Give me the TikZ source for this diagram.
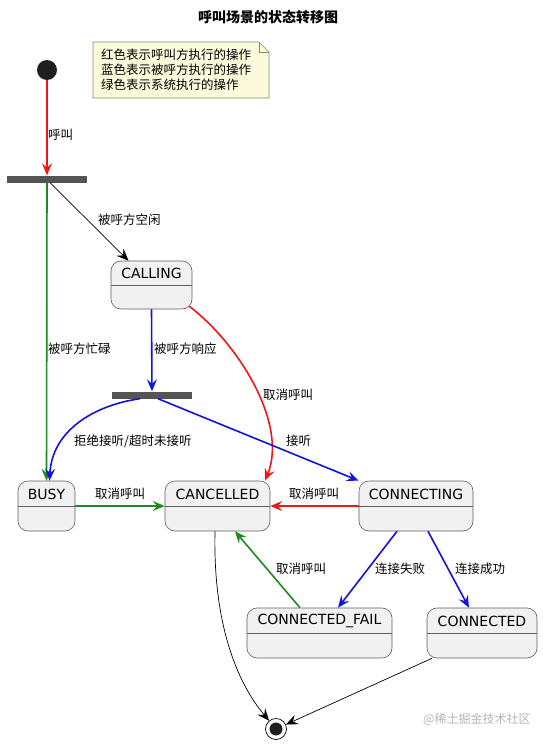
\documentclass[tikz,border=0pt]{standalone}
\usepackage{fontspec}
\setmainfont{DejaVu Sans}
\newfontfamily\cjk{Noto Sans CJK SC}
\usepackage{tikz}
\usetikzlibrary{arrows.meta, backgrounds}
\definecolor{callred}{HTML}{F01616}
\definecolor{calledblue}{HTML}{1212DC}
\definecolor{sysgreen}{HTML}{1C8A1C}
\definecolor{bargray}{HTML}{555555}
\definecolor{statefill}{HTML}{F1F1F1}
\definecolor{stateedge}{HTML}{5E5E5E}
\definecolor{notefill}{HTML}{FBFBDB}
\definecolor{noteedge}{HTML}{8A8A70}
\definecolor{markgray}{HTML}{B4B4B4}
\tikzset{
    state/.style={draw=stateedge, fill=statefill, rounded corners=10pt, line width=0.6pt,
        minimum height=50pt, inner sep=0pt,
        path picture={\draw[stateedge, line width=0.6pt]
            (path picture bounding box.west) -- (path picture bounding box.east);},
        label={[font=\fontsize{14}{16}\selectfont, yshift=12pt]center:#1}},
    forkbar/.style={fill=bargray, minimum width=80pt, minimum height=7pt, inner sep=0pt},
    elabel/.style={font=\cjk\fontsize{12.5}{14}\selectfont, anchor=west, inner sep=0pt},
    redline/.style={callred, line width=1.6pt},
    blueline/.style={calledblue, line width=1.6pt},
    greenline/.style={sysgreen, line width=1.6pt},
    plainline/.style={black, line width=0.7pt}
}

\begin{document}
\begin{tikzpicture}[x=1pt, y=-1pt, >={Stealth[length=12pt, width=10pt, inset=4.5pt]}]
    \useasboundingbox (0,0) rectangle (542,744);

    \node[font=\cjk\bfseries\fontsize{14}{16}\selectfont] (title) at (268,17) {呼叫场景的状态转移图};

    % legend note
    \node[font=\cjk\fontsize{12.5}{15}\selectfont, align=left, anchor=west, inner sep=0pt] (note) at (101,70)
        {红色表示呼叫方执行的操作\\蓝色表示被呼方执行的操作\\绿色表示系统执行的操作};
    \begin{scope}[on background layer]
        \filldraw[fill=notefill, draw=noteedge, line width=0.6pt]
            (93,42) -- (259,42) -- (269,52) -- (269,98) -- (93,98) -- cycle;
        \draw[noteedge, line width=0.6pt] (259,42) -- (259,52) -- (269,52);
    \end{scope}

    % pseudo states
    \node[circle, fill=black!88, minimum size=20pt, inner sep=0pt] (start) at (47,70) {};
    \node[forkbar] (fork1) at (47,179) {};
    \node[forkbar] (fork2) at (152,395) {};
    \node[circle, draw=black, line width=0.7pt, fill=white, minimum size=21pt, inner sep=0pt,
        path picture={\fill[black!88] (path picture bounding box.center) circle (6.5pt);}] (final) at (276,729) {};

    % states
    \node[state=CALLING, minimum width=81pt, minimum height=48pt] (calling) at (151.5,285) {};
    \node[state=BUSY, minimum width=57pt] (busy) at (46.5,506) {};
    \node[state=CANCELLED, minimum width=105pt] (cancelled) at (217.5,506) {};
    \node[state=CONNECTING, minimum width=114pt] (connecting) at (416,506) {};
    \node[state=CONNECTED\_FAIL, minimum width=145pt] (fail) at (319.5,633) {};
    \node[state=CONNECTED, minimum width=110pt] (connected) at (482,633) {};

    % transitions
    \draw[redline, ->] (start) -- (fork1.north);
    \draw[plainline, ->] ([xshift=3pt]fork1.south) -- ([xshift=-23pt]calling.north);
    \draw[greenline, ->] (fork1.south) -- (busy.north);
    \draw[blueline, ->] (calling.south) -- (fork2.north);
    \draw[redline, ->] ([shift={(-3pt,3pt)}]calling.south east)
        .. controls (240,345) and (288,425) .. ([xshift=47.5pt]cancelled.north);
    \draw[blueline, ->] ([xshift=-12pt]fork2.south)
        .. controls (95,405) and (52,430) .. ([xshift=3pt]busy.north);
    \draw[blueline, ->] ([xshift=6pt]fork2.south) -- (connecting.north west);
    \draw[greenline, ->] (busy.east) -- (cancelled.west);
    \draw[redline, ->] (connecting.west) -- (cancelled.east);
    \draw[blueline, ->] ([xshift=-19pt]connecting.south) -- ([xshift=18.5pt]fail.north);
    \draw[blueline, ->] ([xshift=12pt]connecting.south) -- ([xshift=-13pt]connected.north);
    \draw[greenline, ->] ([xshift=-19.5pt]fail.north) -- ([xshift=17.5pt]cancelled.south);
    \draw[plainline, ->] ([xshift=-2.5pt]cancelled.south)
        .. controls (213,620) and (235,680) .. (final);
    \draw[plainline, ->] ([xshift=-50pt]connected.south) -- (final);

    % transition labels
    \node[elabel] (l-call) at (48,135) {呼叫};
    \node[elabel] (l-idle) at (98,220) {被呼方空闲};
    \node[elabel] (l-busy) at (48,349) {被呼方忙碌};
    \node[elabel] (l-answer) at (154,349) {被呼方响应};
    \node[elabel] (l-cancel1) at (263,395) {取消呼叫};
    \node[elabel] (l-reject) at (74,441) {拒绝接听/超时未接听};
    \node[elabel] (l-pickup) at (286,441) {接听};
    \node[elabel] (l-cancel2) at (95,494) {取消呼叫};
    \node[elabel] (l-cancel3) at (289,494) {取消呼叫};
    \node[elabel] (l-cancel4) at (276,569) {取消呼叫};
    \node[elabel] (l-fail) at (375,569) {连接失败};
    \node[elabel] (l-ok) at (455,569) {连接成功};

    \node[font=\cjk\fontsize{12}{14}\selectfont, text=markgray, anchor=west, inner sep=0pt] (mark) at (423,719) {@稀土掘金技术社区};
\end{tikzpicture}
\end{document}
